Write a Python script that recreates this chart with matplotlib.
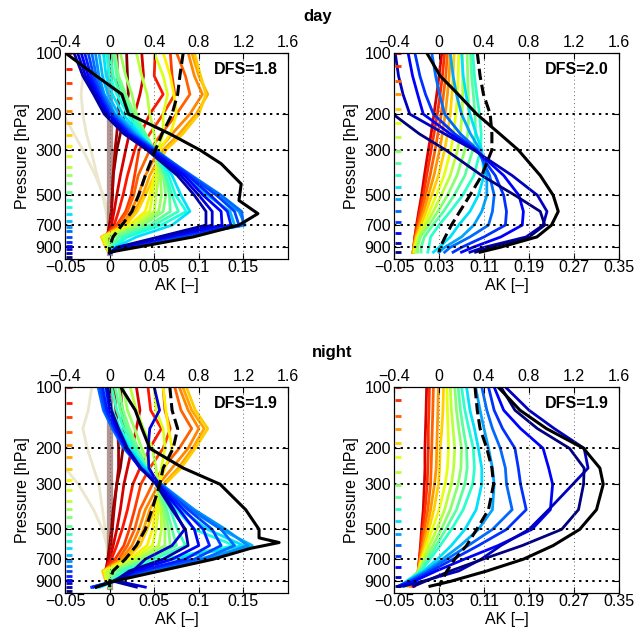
import matplotlib
matplotlib.use('Agg')
import matplotlib.pyplot as plt
import matplotlib.transforms as mtransforms
from matplotlib.ticker import NullLocator

plt.rcParams['font.family'] = ['Liberation Sans', 'DejaVu Sans']

# pressure grids (hPa) on which the kernels are read
p_left = [100, 130, 160, 200, 250, 300, 400, 500, 600, 700, 800, 900, 960]
p_right = [100, 130, 160, 200, 250, 300, 400, 500, 600, 700, 800, 900, 950]

# retrieval levels, colour coded top (red) to bottom (blue)
levels_left = [70, 85, 100, 120, 141, 167, 193, 221, 253, 286, 321, 363, 398, 436,
               481, 526, 570, 616, 665, 713, 752, 800, 850, 885, 915, 960, 1000]
levels_right = [100, 116, 138, 160, 188, 221, 260, 302, 348, 397, 456, 524, 597,
                673, 767, 860, 953]

# ---- day, left panel: averaging kernel rows, one per level ----
day_left_ak = [
    [0.019, 0.020, 0.021, 0.017, 0.012, 0.008, 0.004, 0.003, 0.002, 0.000, -0.002, -0.001, 0.0],
    [0.008, 0.009, 0.010, 0.010, 0.008, 0.006, 0.004, 0.003, 0.002, 0.000, -0.003, -0.001, 0.0],
    [0.036, 0.038, 0.034, 0.028, 0.022, 0.018, 0.012, 0.008, 0.005, 0.002, -0.004, -0.002, 0.0],
    [0.051, 0.050, 0.060, 0.045, 0.035, 0.028, 0.020, 0.015, 0.010, 0.005, -0.005, -0.003, 0.0],
    [0.068, 0.070, 0.073, 0.060, 0.045, 0.033, 0.028, 0.024, 0.018, 0.008, -0.006, -0.004, 0.0],
    [0.075, 0.085, 0.090, 0.075, 0.058, 0.045, 0.032, 0.027, 0.020, 0.010, -0.007, -0.004, 0.0],
    [0.088, 0.095, 0.104, 0.090, 0.070, 0.055, 0.040, 0.032, 0.024, 0.014, -0.008, -0.004, 0.0],
    [0.092, 0.100, 0.110, 0.097, 0.078, 0.060, 0.045, 0.037, 0.028, 0.016, -0.009, -0.004, 0.0],
    [0.095, 0.102, 0.108, 0.100, 0.082, 0.063, 0.050, 0.040, 0.031, 0.018, -0.009, -0.004, 0.0],
    [0.060, 0.068, 0.072, 0.075, 0.068, 0.056, 0.050, 0.045, 0.040, 0.022, -0.008, -0.003, 0.0],
    [0.050, 0.060, 0.065, 0.060, 0.060, 0.054, 0.052, 0.048, 0.045, 0.025, -0.006, -0.003, 0.0],
    [0.030, 0.036, 0.042, 0.045, 0.050, 0.052, 0.055, 0.052, 0.050, 0.030, -0.003, -0.002, 0.0],
    [0.012, 0.018, 0.025, 0.030, 0.040, 0.050, 0.057, 0.058, 0.055, 0.034, 0.002, -0.001, 0.0],
    [0.006, 0.010, 0.018, 0.028, 0.040, 0.050, 0.060, 0.063, 0.060, 0.038, 0.005, 0.000, 0.0],
    [0.004, 0.008, 0.015, 0.026, 0.040, 0.050, 0.062, 0.067, 0.068, 0.045, 0.010, 0.001, 0.0],
    [0.000, 0.004, 0.012, 0.024, 0.038, 0.050, 0.063, 0.070, 0.077, 0.050, 0.015, 0.002, 0.0],
    [-0.004, 0.000, 0.008, 0.020, 0.035, 0.050, 0.066, 0.074, 0.086, 0.058, 0.020, 0.004, 0.0],
    [-0.007, -0.004, 0.003, 0.015, 0.033, 0.050, 0.070, 0.080, 0.090, 0.070, 0.030, 0.006, 0.0],
    [-0.012, -0.008, -0.002, 0.010, 0.030, 0.052, 0.085, 0.110, 0.135, 0.140, 0.060, 0.012, 0.0],
    [-0.016, -0.012, -0.006, 0.006, 0.028, 0.052, 0.090, 0.120, 0.145, 0.152, 0.075, 0.015, 0.0],
    [-0.020, -0.015, -0.008, 0.004, 0.026, 0.050, 0.092, 0.125, 0.148, 0.150, 0.080, 0.016, 0.0],
    [-0.024, -0.018, -0.010, 0.002, 0.024, 0.050, 0.090, 0.120, 0.140, 0.145, 0.075, 0.015, 0.0],
    [-0.028, -0.021, -0.012, 0.000, 0.022, 0.048, 0.088, 0.113, 0.132, 0.136, 0.070, 0.014, 0.0],
    [-0.032, -0.024, -0.014, -0.002, 0.020, 0.046, 0.084, 0.105, 0.125, 0.126, 0.065, 0.012, 0.0],
    [-0.036, -0.027, -0.016, -0.004, 0.018, 0.044, 0.080, 0.100, 0.115, 0.115, 0.060, 0.010, 0.0],
    [-0.040, -0.030, -0.018, -0.006, 0.016, 0.042, 0.076, 0.095, 0.108, 0.108, 0.055, 0.008, 0.0],
]
day_left_beige = [
    [-0.028, -0.030, -0.032, -0.030, -0.026, -0.021, -0.014, -0.008, -0.004, -0.002, -0.001, 0.0, 0.0],
    [-0.060, -0.060, -0.060, -0.052, -0.040, -0.030, -0.016, -0.007, -0.002, 0.000, 0.000, 0.0, 0.0],
]
day_left_brown = [0.000, 0.000, 0.000, 0.000, 0.000, 0.000, 0.000, 0.000, 0.000, 0.000, 0.000, 0.0, 0.0]
day_left_tot_p = [100, 130, 160, 200, 250, 300, 350, 440, 530, 615, 700, 800, 900, 950]
day_left_tot = [-0.40, -0.12, 0.11, 0.17, 0.54, 0.81, 1.00, 1.18, 1.16, 1.33, 1.16, 0.75, 0.24, 0.00]
day_left_dash = [0.66, 0.63, 0.61, 0.56, 0.47, 0.41, 0.32, 0.26, 0.20, 0.11, 0.03, 0.00, 0.00]

# ---- night, left panel ----
night_left_ak = [
    [0.012, 0.014, 0.016, 0.015, 0.012, 0.008, 0.004, 0.002, 0.000, -0.002, -0.004, 0.0, 0.0],
    [0.005, 0.007, 0.009, 0.010, 0.010, 0.008, 0.005, 0.003, 0.001, -0.002, -0.004, 0.0, 0.0],
    [0.030, 0.034, 0.030, 0.025, 0.020, 0.016, 0.012, 0.008, 0.004, 0.000, -0.005, -0.002, 0.0],
    [0.043, 0.046, 0.058, 0.045, 0.034, 0.026, 0.020, 0.014, 0.008, 0.002, -0.006, -0.003, 0.0],
    [0.060, 0.062, 0.068, 0.060, 0.045, 0.035, 0.028, 0.022, 0.016, 0.006, -0.006, -0.004, 0.0],
    [0.073, 0.080, 0.092, 0.078, 0.060, 0.048, 0.034, 0.028, 0.020, 0.010, -0.006, -0.004, 0.0],
    [0.078, 0.088, 0.100, 0.088, 0.070, 0.055, 0.040, 0.033, 0.025, 0.013, -0.007, -0.004, 0.0],
    [0.082, 0.092, 0.106, 0.093, 0.077, 0.060, 0.045, 0.038, 0.030, 0.016, -0.007, -0.004, 0.0],
    [0.086, 0.096, 0.110, 0.096, 0.080, 0.062, 0.050, 0.042, 0.034, 0.018, -0.008, -0.004, 0.0],
    [0.060, 0.063, 0.066, 0.070, 0.062, 0.055, 0.052, 0.048, 0.042, 0.022, -0.006, -0.003, 0.0],
    [0.050, 0.052, 0.060, 0.062, 0.058, 0.055, 0.055, 0.052, 0.048, 0.026, -0.005, -0.003, 0.0],
    [0.023, 0.030, 0.038, 0.048, 0.052, 0.054, 0.058, 0.058, 0.055, 0.030, -0.002, -0.002, 0.0],
    [0.015, 0.020, 0.028, 0.036, 0.045, 0.052, 0.060, 0.062, 0.062, 0.034, 0.002, -0.001, 0.0],
    [0.010, 0.015, 0.022, 0.032, 0.042, 0.053, 0.062, 0.066, 0.068, 0.040, 0.006, 0.000, 0.0],
    [0.006, 0.012, 0.019, 0.030, 0.042, 0.054, 0.064, 0.070, 0.075, 0.045, 0.010, 0.001, 0.0],
    [0.002, 0.008, 0.016, 0.028, 0.041, 0.054, 0.068, 0.076, 0.085, 0.050, 0.015, 0.002, 0.0],
    [-0.004, 0.003, 0.012, 0.025, 0.040, 0.055, 0.075, 0.095, 0.140, 0.060, 0.020, 0.004, -0.010],
    [-0.007, 0.000, 0.010, 0.022, 0.040, 0.056, 0.080, 0.110, 0.150, 0.070, 0.025, 0.005, -0.012],
    [-0.010, -0.004, 0.006, 0.020, 0.038, 0.058, 0.090, 0.125, 0.160, 0.100, 0.040, 0.006, -0.015],
    [-0.012, -0.006, 0.004, 0.018, 0.036, 0.058, 0.095, 0.130, 0.155, 0.110, 0.045, 0.006, -0.018],
    [-0.013, -0.007, 0.003, 0.016, 0.035, 0.057, 0.092, 0.125, 0.140, 0.105, 0.042, 0.005, -0.020],
    [-0.011, -0.005, 0.005, 0.017, 0.035, 0.056, 0.088, 0.115, 0.125, 0.095, 0.038, 0.004, -0.020],
    [-0.008, -0.003, 0.006, 0.018, 0.034, 0.055, 0.083, 0.105, 0.112, 0.085, 0.034, 0.004, -0.018],
    [-0.004, 0.000, 0.008, 0.019, 0.034, 0.054, 0.078, 0.095, 0.100, 0.070, 0.028, 0.003, -0.015],
    [0.050, 0.056, 0.045, 0.043, 0.044, 0.055, 0.072, 0.084, 0.070, 0.040, 0.026, 0.010, 0.040],
    [-0.002, 0.002, 0.010, 0.020, 0.035, 0.052, 0.070, 0.085, 0.088, 0.060, 0.022, 0.005, 0.030],
]
night_left_beige = [
    [-0.020, -0.024, -0.030, -0.025, -0.018, -0.012, -0.008, -0.005, -0.003, -0.002, -0.001, 0.0, 0.0],
    [-0.060, -0.060, -0.060, -0.060, -0.050, -0.035, -0.018, -0.008, -0.003, -0.001, 0.000, 0.0, 0.0],
]
night_left_brown = [0.000, 0.000, 0.000, 0.000, 0.000, 0.000, 0.000, 0.000, 0.000, 0.000, 0.000, 0.0, 0.0]
night_left_tot_p = [100, 130, 160, 200, 250, 300, 400, 500, 550, 580, 620, 700, 800, 900, 960]
night_left_tot = [0.10, 0.23, 0.29, 0.36, 0.66, 0.99, 1.22, 1.34, 1.34, 1.52, 1.26, 0.93, 0.45, 0.03, -0.12]
night_left_dash = [0.54, 0.56, 0.61, 0.57, 0.48, 0.45, 0.38, 0.32, 0.24, 0.14, 0.03, 0.00, 0.00]

# ---- day, right panel ----
day_right_ak = [
    [0.035, 0.030, 0.026, 0.021, 0.016, 0.011, 0.004, -0.001, -0.006, -0.010, -0.013, -0.015, -0.016],
    [0.040, 0.036, 0.032, 0.027, 0.021, 0.016, 0.008, 0.002, -0.004, -0.009, -0.013, -0.015, -0.016],
    [0.045, 0.042, 0.038, 0.034, 0.028, 0.023, 0.014, 0.006, -0.001, -0.007, -0.012, -0.015, -0.016],
    [0.050, 0.048, 0.045, 0.041, 0.036, 0.031, 0.021, 0.011, 0.003, -0.005, -0.011, -0.015, -0.016],
    [0.057, 0.055, 0.053, 0.050, 0.045, 0.040, 0.029, 0.017, 0.007, -0.002, -0.010, -0.014, -0.015],
    [0.065, 0.064, 0.063, 0.060, 0.056, 0.051, 0.039, 0.025, 0.013, 0.002, -0.008, -0.013, -0.014],
    [0.072, 0.072, 0.072, 0.071, 0.068, 0.063, 0.050, 0.034, 0.020, 0.006, -0.006, -0.011, -0.012],
    [0.080, 0.081, 0.082, 0.083, 0.081, 0.076, 0.062, 0.045, 0.028, 0.012, -0.003, -0.008, -0.008],
    [0.086, 0.088, 0.091, 0.094, 0.095, 0.090, 0.076, 0.057, 0.038, 0.019, 0.004, -0.002, -0.002],
    [0.090, 0.093, 0.097, 0.102, 0.105, 0.104, 0.092, 0.072, 0.050, 0.030, 0.015, 0.012, 0.010],
    [0.070, 0.073, 0.078, 0.085, 0.096, 0.106, 0.110, 0.100, 0.085, 0.065, 0.050, 0.030, 0.020],
    [0.050, 0.055, 0.061, 0.070, 0.086, 0.103, 0.115, 0.115, 0.106, 0.092, 0.070, 0.040, 0.030],
    [0.017, 0.024, 0.031, 0.040, 0.068, 0.099, 0.120, 0.128, 0.125, 0.118, 0.085, 0.050, 0.040],
    [-0.013, -0.004, 0.006, 0.020, 0.058, 0.097, 0.130, 0.145, 0.150, 0.148, 0.110, 0.070, 0.055],
    [-0.025, -0.017, -0.008, 0.002, 0.050, 0.095, 0.145, 0.172, 0.180, 0.178, 0.140, 0.090, 0.070],
    [-0.048, -0.042, -0.034, -0.022, 0.040, 0.092, 0.160, 0.205, 0.222, 0.215, 0.185, 0.110, 0.085],
    [-0.150, -0.120, -0.090, -0.052, -0.005, 0.042, 0.106, 0.165, 0.210, 0.218, 0.190, 0.120, 0.095],
]
day_right_tot_p = p_right
day_right_tot = [-0.11, 0.01, 0.17, 0.335, 0.54, 0.705, 0.90, 1.015, 1.06, 1.00, 0.87, 0.54, 0.365]
day_right_dash = [0.34, 0.365, 0.395, 0.455, 0.47, 0.47, 0.38, 0.275, 0.185, 0.11, 0.055, 0.01, 0.00]

# ---- night, right panel ----
night_right_ak = [
    [0.008, 0.007, 0.006, 0.005, 0.005, 0.004, 0.002, -0.001, -0.003, -0.005, -0.007, -0.012, -0.014],
    [0.013, 0.012, 0.011, 0.011, 0.010, 0.009, 0.005, 0.001, -0.002, -0.005, -0.007, -0.014, -0.017],
    [0.020, 0.019, 0.018, 0.017, 0.016, 0.015, 0.010, 0.004, 0.000, -0.004, -0.007, -0.016, -0.020],
    [0.029, 0.028, 0.027, 0.026, 0.025, 0.022, 0.015, 0.008, 0.002, -0.003, -0.007, -0.018, -0.023],
    [0.038, 0.037, 0.035, 0.032, 0.031, 0.029, 0.021, 0.012, 0.005, -0.002, -0.007, -0.019, -0.026],
    [0.044, 0.045, 0.046, 0.047, 0.045, 0.041, 0.030, 0.018, 0.008, 0.000, -0.006, -0.021, -0.029],
    [0.050, 0.052, 0.055, 0.058, 0.056, 0.052, 0.040, 0.026, 0.013, 0.003, -0.006, -0.023, -0.032],
    [0.058, 0.061, 0.065, 0.070, 0.069, 0.064, 0.050, 0.034, 0.019, 0.006, -0.005, -0.025, -0.035],
    [0.064, 0.068, 0.073, 0.079, 0.080, 0.076, 0.061, 0.042, 0.025, 0.010, -0.004, -0.027, -0.037],
    [0.070, 0.076, 0.083, 0.091, 0.093, 0.090, 0.073, 0.052, 0.032, 0.014, -0.002, -0.028, -0.039],
    [0.079, 0.085, 0.093, 0.100, 0.106, 0.106, 0.096, 0.076, 0.052, 0.027, 0.002, -0.028, -0.040],
    [0.095, 0.103, 0.110, 0.118, 0.125, 0.128, 0.125, 0.100, 0.068, 0.036, 0.006, -0.026, -0.041],
    [0.106, 0.115, 0.125, 0.139, 0.148, 0.150, 0.160, 0.125, 0.082, 0.044, 0.010, -0.024, -0.042],
    [0.118, 0.128, 0.143, 0.165, 0.171, 0.175, 0.185, 0.150, 0.100, 0.055, 0.016, -0.020, -0.043],
    [0.128, 0.145, 0.175, 0.215, 0.225, 0.232, 0.228, 0.195, 0.135, 0.075, 0.025, -0.015, -0.040],
    [0.148, 0.190, 0.235, 0.288, 0.295, 0.268, 0.225, 0.190, 0.140, 0.105, 0.065, 0.000, -0.033],
    [0.140, 0.165, 0.205, 0.262, 0.288, 0.287, 0.278, 0.248, 0.178, 0.108, 0.050, 0.005, -0.015],
]
night_right_tot_p = p_right
night_right_tot = [0.525, 0.72, 0.955, 1.285, 1.43, 1.46, 1.40, 1.25, 1.015, 0.75, 0.425, 0.10, -0.08]
night_right_dash = [0.32, 0.34, 0.365, 0.425, 0.47, 0.485, 0.44, 0.335, 0.245, 0.14, 0.07, 0.025, 0.00]

dfs_values = ['DFS=1.8', 'DFS=2.0', 'DFS=1.9', 'DFS=1.9']
y_ticks = [100, 200, 300, 500, 700, 900]
x_ticks_left = [-0.05, 0, 0.05, 0.1, 0.15]
x_ticks_right = [-0.05, 0.03, 0.11, 0.19, 0.27, 0.35]
top_ticks = [-0.4, 0, 0.4, 0.8, 1.2, 1.6]

jet = plt.get_cmap('jet')
MINUS = '\u2212'


def fmt(v):
    return ('%g' % v).replace('-', MINUS)


def draw_panel(rect, p, levels, ak, cscale, xlim, xticks, tot_p, tot, dash, dfs,
               beige=None, brown=None):
    ax = fig.add_axes(rect)
    ax.set_yscale('log')
    ax.set_ylim(1026, 100)
    ax.set_xlim(*xlim)

    n = len(levels)
    # faint stratospheric kernels
    if beige is not None:
        for row in beige:
            ax.plot(row, p, color=(0.92, 0.90, 0.80), lw=2.0, zorder=1)
    if brown is not None:
        ax.plot(brown, p, color=(0.55, 0.36, 0.34), lw=4.5, alpha=0.65, zorder=1)
    for i, row in enumerate(ak):
        c = jet(cscale * (1 - i / (n - 1)))
        ax.plot(row, p, color=c, lw=2.0, zorder=2)

    # level markers on the left edge
    trans = mtransforms.blended_transform_factory(ax.transAxes, ax.transData)
    for i, lev in enumerate(levels):
        c = jet(cscale * (1 - i / (n - 1)))
        ax.plot([0.004, 0.032], [lev, lev], transform=trans, color=c, lw=2,
                solid_capstyle='butt', zorder=4)

    # grid
    for xv in xticks[1:]:
        ax.axvline(xv, color='0.4', lw=0.7, ls=(0, (1, 3)), zorder=3)
    for yv in y_ticks[1:]:
        ax.axhline(yv, color='k', lw=1.4, ls=(0, (1.2, 2.2)), zorder=3)

    ax.set_yticks(y_ticks)
    ax.set_yticklabels([str(v) for v in y_ticks])
    ax.yaxis.set_minor_locator(NullLocator())
    ax.set_xticks(xticks)
    ax.set_xticklabels([fmt(v) for v in xticks])
    ax.tick_params(direction='in', length=4, labelsize=11.5, right=True)
    ax.tick_params(axis='x', pad=1)
    ax.tick_params(axis='y', pad=2)
    ax.set_ylabel('Pressure [hPa]', fontsize=11.5, labelpad=4)
    ax.set_xlabel('AK [\u2013]', fontsize=11.5, labelpad=2)

    ax2 = ax.twiny()
    ax2.set_xlim(-0.4, 1.6)
    ax2.plot(tot, tot_p, color='k', lw=2.2, zorder=5)
    ax2.plot(dash, p, color='k', lw=2.2, ls='--', zorder=5)
    ax2.set_xticks(top_ticks)
    ax2.set_xticklabels([fmt(v) for v in top_ticks])
    ax2.tick_params(direction='in', length=4, labelsize=11.5, pad=2)
    ax2.yaxis.set_minor_locator(NullLocator())
    ax2.text(0.953, 0.92, dfs, transform=ax2.transAxes, ha='right', va='center',
             fontsize=11.5, fontweight='bold', zorder=6)
    return ax


fig = plt.figure(figsize=(6.35, 6.36), dpi=100)

rect_tl = [0.1024, 0.5928, 0.3512, 0.3244]
rect_tr = [0.6205, 0.5928, 0.3543, 0.3244]
rect_bl = [0.1024, 0.0676, 0.3512, 0.3239]
rect_br = [0.6205, 0.0676, 0.3543, 0.3239]

draw_panel(rect_tl, p_left, levels_left, day_left_ak, 1.0, (-0.05, 0.2), x_ticks_left,
           day_left_tot_p, day_left_tot, day_left_dash, dfs_values[0],
           beige=day_left_beige, brown=day_left_brown)
draw_panel(rect_tr, p_right, levels_right, day_right_ak, 0.92, (-0.05, 0.35), x_ticks_right,
           day_right_tot_p, day_right_tot, day_right_dash, dfs_values[1])
draw_panel(rect_bl, p_left, levels_left, night_left_ak, 1.0, (-0.05, 0.2), x_ticks_left,
           night_left_tot_p, night_left_tot, night_left_dash, dfs_values[2],
           beige=night_left_beige, brown=night_left_brown)
draw_panel(rect_br, p_right, levels_right, night_right_ak, 0.92, (-0.05, 0.35), x_ticks_right,
           night_right_tot_p, night_right_tot, night_right_dash, dfs_values[3])

fig.text(318 / 635, 1 - 17 / 636, 'day', ha='center', va='center', fontsize=12, fontweight='bold')
fig.text(332 / 635, 1 - 352 / 636, 'night', ha='center', va='center', fontsize=12, fontweight='bold')

fig.savefig('out.png', dpi=100)
